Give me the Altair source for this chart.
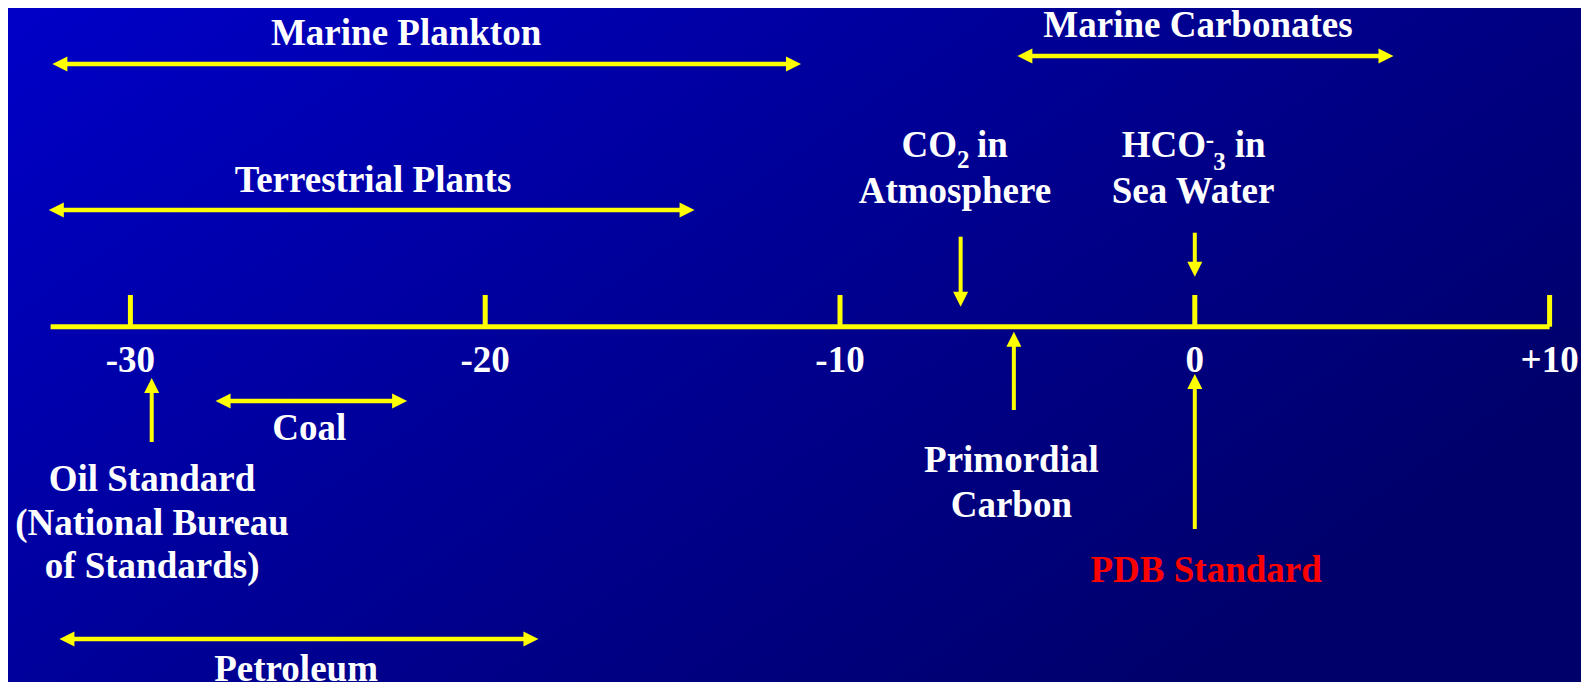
import altair as alt
import pandas as pd

# ---------------- data (delta 13C, per mil vs PDB) ----------------
range_names = ["Marine Plankton", "Terrestrial Plants", "Marine Carbonates", "Coal", "Petroleum"]
range_lo = [-32.2, -32.3, -5.0, -27.6, -32.0]
range_hi = [-11.1, -14.1, 5.6, -22.2, -18.5]

point_names = ["CO2 in Atmosphere", "HCO3- in Sea Water", "Primordial Carbon", "PDB Standard", "Oil Standard"]
point_values = [-6.6, 0.0, -5.1, 0.0, -29.4]
point_dirs = ["down", "down", "up", "up", "up"]

tick_values = [-30, -20, -10, 0, 10]
tick_labels = ["-30", "-20", "-10", "0", "+10"]
axis_extent = [-32.25, 10]

# ---------------- layout (pixels / label anchors) ----------------
W, H = 1573, 674
X_DOMAIN = [-33.45, 10.885]
range_row_y = [56, 202, 48, 393, 631]
range_label_x = [-22.23, -23.16, 0.09, -24.96, -25.33]
range_label_y = [37, 184, 29, 432, 673]
point_tail_y = [228.7, 224.7, 402, 521, 434]
point_tip_y = [298.7, 268.7, 323.7, 366, 370]
AXIS_Y = 318.7
TICK_TOP = 287
TICK_LABEL_Y = 364

YELLOW = "#FFFF00"
WHITE = "#FFFFFF"
RED = "#FF0000"
FONT = "Liberation Serif"
FS = 37
FS_SUB = 25

xs = alt.Scale(domain=X_DOMAIN, nice=False, zero=False)
ys = alt.Scale(domain=[0, H], reverse=True, nice=False, zero=False)


def X(f):
    return alt.X(f, type="quantitative", scale=xs, axis=None)


def Y(f):
    return alt.Y(f, type="quantitative", scale=ys, axis=None)


# background gradient
bg = alt.Chart(pd.DataFrame({"a": [0]})).mark_rect(
    fill={
        "gradient": "linear",
        "x1": 0, "y1": 0, "x2": 1, "y2": 0.6,
        "stops": [
            {"offset": 0, "color": "#0000C8"},
            {"offset": 0.5, "color": "#000096"},
            {"offset": 1, "color": "#00006A"},
        ],
    }
).encode(x=alt.value(0), x2=alt.value(W), y=alt.value(0), y2=alt.value(H))

# horizontal range arrows
rng = pd.DataFrame({
    "name": range_names, "lo": range_lo, "hi": range_hi, "row": range_row_y,
    "lx": range_label_x, "ly": range_label_y,
})
shafts = alt.Chart(rng).mark_rule(color=YELLOW, strokeWidth=4.5, xOffset=8, x2Offset=-8).encode(
    x=X("lo"), x2="hi", y=Y("row"))
head_path_left = "M0,0L2,-1L2,1Z"
head_path_right = "M0,0L-2,-1L-2,1Z"
head_path_down = "M0,0L-1,-2L1,-2Z"
head_path_up = "M0,0L-1,2L1,2Z"
lheads = alt.Chart(rng).mark_point(shape=head_path_left, filled=True, size=225, color=YELLOW,
                                   opacity=1, strokeWidth=0).encode(x=X("lo"), y=Y("row"))
rheads = alt.Chart(rng).mark_point(shape=head_path_right, filled=True, size=225, color=YELLOW,
                                   opacity=1, strokeWidth=0).encode(x=X("hi"), y=Y("row"))
rlabels = alt.Chart(rng).mark_text(font=FONT, fontWeight="bold", fontSize=FS, color=WHITE,
                                   align="center", baseline="alphabetic").encode(
    x=X("lx"), y=Y("ly"), text="name")

# axis line and ticks
axis_df = pd.DataFrame({"lo": [axis_extent[0]], "hi": [axis_extent[1]], "y": [AXIS_Y]})
axis_line = alt.Chart(axis_df).mark_rule(color=YELLOW, strokeWidth=5).encode(
    x=X("lo"), x2="hi", y=Y("y"))
ticks_df = pd.DataFrame({"v": tick_values, "lab": tick_labels, "top": TICK_TOP, "base": AXIS_Y,
                         "ly": TICK_LABEL_Y})
ticks = alt.Chart(ticks_df).mark_rule(color=YELLOW, strokeWidth=5).encode(
    x=X("v"), y=Y("top"), y2="base")
tick_text = alt.Chart(ticks_df).mark_text(font=FONT, fontWeight="bold", fontSize=FS, color=WHITE,
                                          align="center", baseline="alphabetic").encode(
    x=X("v"), y=Y("ly"), text="lab")

# vertical arrows
pts = pd.DataFrame({"name": point_names, "v": point_values, "dir": point_dirs,
                    "tail": point_tail_y, "tip": point_tip_y})
down = pts[pts["dir"] == "down"]
up = pts[pts["dir"] == "up"]
down_shaft = alt.Chart(down).mark_rule(color=YELLOW, strokeWidth=4, y2Offset=-8).encode(
    x=X("v"), y=Y("tail"), y2="tip")
up_shaft = alt.Chart(up).mark_rule(color=YELLOW, strokeWidth=4, y2Offset=8).encode(
    x=X("v"), y=Y("tail"), y2="tip")
down_head = alt.Chart(down).mark_point(shape=head_path_down, filled=True, size=225, color=YELLOW,
                                       opacity=1, strokeWidth=0).encode(x=X("v"), y=Y("tip"))
up_head = alt.Chart(up).mark_point(shape=head_path_up, filled=True, size=225, color=YELLOW,
                                   opacity=1, strokeWidth=0).encode(x=X("v"), y=Y("tip"))

# text labels for the point items
lab_df = pd.DataFrame({
    "text": ["Atmosphere", "Sea Water", "Primordial", "Carbon", "PDB Standard",
             "Oil Standard", "(National Bureau", "of Standards)"],
    "x": [-6.76, -0.05, -5.17, -5.17, 0.32, -29.39, -29.39, -29.39],
    "y": [195.3, 195.3, 464, 509, 574, 482.7, 527, 570.3],
    "c": [WHITE, WHITE, WHITE, WHITE, RED, WHITE, WHITE, WHITE],
})
plabels = alt.Chart(lab_df).mark_text(font=FONT, fontWeight="bold", fontSize=FS,
                                      align="center", baseline="alphabetic").encode(
    x=X("x"), y=Y("y"), text="text", color=alt.Color("c:N", scale=None))


def piece(txt, anchor, y, dx, size, align):
    d = pd.DataFrame({"t": [txt], "x": [anchor], "y": [y]})
    return alt.Chart(d).mark_text(font=FONT, fontWeight="bold", fontSize=size, color=WHITE,
                                  align=align, baseline="alphabetic", dx=dx).encode(
        x=X("x"), y=Y("y"), text="t")


co2 = point_values[0]
hco3 = point_values[1]
formula = [
    piece("CO", co2, 149.3, -3.6, FS, "right"),
    piece("2", co2, 159.7, -3.6, FS_SUB, "left"),
    piece("in", co2, 149.3, 16.4, FS, "left"),
    piece("HCO", hco3, 149.3, 11.2, FS, "right"),
    piece("-", hco3, 140, 11, FS_SUB, "left"),
    piece("3", hco3, 162, 18.5, FS_SUB, "left"),
    piece("in", hco3, 149.3, 40, FS, "left"),
]

chart = alt.layer(
    bg, shafts, lheads, rheads, rlabels, axis_line, ticks, tick_text,
    down_shaft, up_shaft, down_head, up_head, plabels, *formula
).properties(
    width=W, height=H, padding=0, autosize=alt.AutoSizeParams(type="none"),
    background="#000090",
).configure_view(strokeWidth=0)

chart.save("out.html", embed_options={"renderer": "svg", "actions": False})
